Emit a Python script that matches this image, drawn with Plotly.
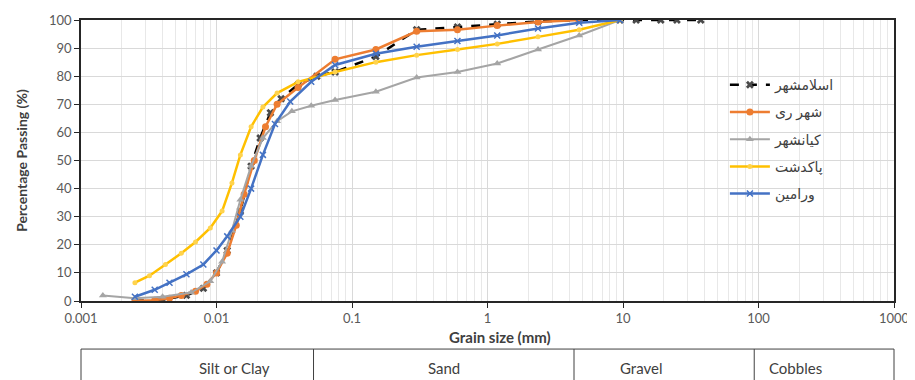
import math
import plotly.graph_objects as go

# ---------------- data ----------------
islamshahr_mm = [0.0025, 0.004, 0.006, 0.008, 0.01, 0.012, 0.015, 0.018, 0.021, 0.025, 0.03, 0.04,
                 0.055, 0.075, 0.15, 0.3, 0.6, 1.18, 2.36, 4.75, 9.5, 12.5, 19, 25, 37.5]
islamshahr_pct = [0, 0.5, 2, 4.5, 10, 18, 32, 48, 58, 67, 72, 77,
                  80, 81.5, 87, 96.5, 97.5, 98.5, 99.5, 100, 100, 100, 100, 100, 100]

shahrrey_mm = [0.0025, 0.0035, 0.0045, 0.0055, 0.007, 0.0085, 0.01, 0.012, 0.014, 0.016, 0.019,
               0.023, 0.028, 0.04, 0.075, 0.15, 0.3, 0.6, 1.18, 2.36, 4.75]
shahrrey_pct = [0, 0.3, 1, 2, 3.5, 6, 10, 17, 27, 38, 50,
                62, 70, 76, 86, 89.5, 96, 96.5, 98, 99.3, 100]

kianshahr_mm = [0.00145, 0.0025, 0.004, 0.0065, 0.009, 0.011, 0.013, 0.015, 0.018, 0.022, 0.028,
                0.036, 0.05, 0.075, 0.15, 0.3, 0.6, 1.18, 2.36, 4.75, 9.5]
kianshahr_pct = [2, 1, 1.5, 3, 7, 14, 25, 36, 48, 58, 64,
                 67.5, 69.5, 71.5, 74.5, 79.5, 81.5, 84.5, 89.5, 94.5, 100]

pakdasht_mm = [0.0025, 0.0032, 0.0042, 0.0055, 0.007, 0.009, 0.011, 0.013, 0.015, 0.018, 0.022,
               0.028, 0.04, 0.075, 0.15, 0.3, 0.6, 1.18, 2.36, 4.75, 9.5]
pakdasht_pct = [6.5, 9, 13, 17, 21, 26, 32, 42, 52, 62, 69,
                74, 78, 81.5, 85, 87.5, 89.5, 91.5, 94, 96.5, 100]

varamin_mm = [0.0025, 0.0035, 0.0045, 0.006, 0.008, 0.01, 0.012, 0.015, 0.018, 0.022, 0.027,
              0.035, 0.05, 0.075, 0.15, 0.3, 0.6, 1.18, 2.36, 4.75, 9.5]
varamin_pct = [1.5, 4, 6.5, 9.5, 13, 18, 23, 30, 40, 52, 63,
               71, 78, 84, 88, 90.5, 92.5, 94.5, 97, 99, 100]

series_names = ["اسلامشهر", "شهر ری", "کیانشهر", "پاکدشت", "ورامین"]

x_tick_vals = [0.001, 0.01, 0.1, 1, 10, 100, 1000]
x_tick_text = ["0.001", "0.01", "0.1", "1", "10", "100", "1000"]
y_tick_vals = [0, 10, 20, 30, 40, 50, 60, 70, 80, 90, 100]

class_names = ["Silt or Clay", "Sand", "Gravel", "Cobbles"]
class_edges_mm = [0.001, 0.052, 4.35, 93, 1000]

# ---------------- figure ----------------
FONT = "Lato, 'DejaVu Sans', sans-serif"
fig = go.Figure()

styles = [
    dict(line=dict(color="#000000", width=2.5, dash="dash"),
         marker=dict(symbol="x", size=7, color="#4a4a4a")),
    dict(line=dict(color="#ED7D31", width=2.5),
         marker=dict(symbol="circle", size=7, color="#ED7D31")),
    dict(line=dict(color="#A5A5A5", width=2),
         marker=dict(symbol="triangle-up", size=7, color="#A5A5A5")),
    dict(line=dict(color="#FFC000", width=2.5),
         marker=dict(symbol="circle", size=5, color="#FFD34D")),
    dict(line=dict(color="#4472C4", width=2.5),
         marker=dict(symbol="x-thin-open", size=6, line=dict(color="#7FA3E0", width=1.5))),
]
xs = [islamshahr_mm, shahrrey_mm, kianshahr_mm, pakdasht_mm, varamin_mm]
ys = [islamshahr_pct, shahrrey_pct, kianshahr_pct, pakdasht_pct, varamin_pct]

for i, (name, x, y, st) in enumerate(zip(series_names, xs, ys, styles)):
    fig.add_trace(go.Scatter(x=x, y=y, name=name, mode="lines+markers",
                             legendgroup=f"g{i}", **st))

fig.update_xaxes(type="log", range=[-3, 3], tickvals=x_tick_vals, ticktext=x_tick_text,
                 showline=True, linecolor="#262626", linewidth=1.5, mirror=True,
                 ticks="outside", ticklen=5, tickcolor="#262626", automargin=False,
                 showgrid=True, gridcolor="#D9D9D9", gridwidth=1,
                 minor=dict(showgrid=True, gridcolor="#E8E8E8", dtick="D1", ticks=""),
                 tickfont=dict(family=FONT, size=13, color="#595959"), zeroline=False)
fig.update_yaxes(range=[0, 100], tickvals=y_tick_vals, automargin=False,
                 showline=True, linecolor="#262626", linewidth=1.5, mirror=True,
                 ticks="outside", ticklen=5, tickcolor="#262626",
                 showgrid=True, gridcolor="#D9D9D9", gridwidth=1,
                 tickfont=dict(family=FONT, size=13, color="#595959"), zeroline=False,
                 title=dict(text="<b>Percentage Passing (%)</b>", standoff=18,
                            font=dict(family=FONT, size=14, color="#404040")))

annotations = [dict(text="<b>Grain size (mm)</b>", xref="paper", yref="paper",
                    x=0.515, y=-0.127, yanchor="middle", showarrow=False,
                    font=dict(family=FONT, size=15, color="#404040"))]

def frac(v):
    return (math.log10(v) + 3) / 6

shapes = []
tbl_top, tbl_bot = -0.171, -0.32
shapes.append(dict(type="line", xref="paper", yref="paper", x0=0, x1=1,
                   y0=tbl_top, y1=tbl_top, line=dict(color="#404040", width=1)))
for e in class_edges_mm:
    shapes.append(dict(type="line", xref="paper", yref="paper", x0=frac(e), x1=frac(e),
                       y0=tbl_top, y1=tbl_bot, line=dict(color="#404040", width=1)))
for i, nm in enumerate(class_names):
    cx = (frac(class_edges_mm[i]) + frac(class_edges_mm[i + 1])) / 2
    annotations.append(dict(text=nm, xref="paper", yref="paper", x=cx, y=-0.237,
                            yanchor="middle", showarrow=False,
                            font=dict(family=FONT, size=15, color="#404040")))

# page body has an 8px margin, so the figure is sized to fit the 915x380 window
fig.update_layout(
    width=907, height=372,
    margin=dict(l=73, r=21, t=12, b=79),
    paper_bgcolor="white", plot_bgcolor="white",
    showlegend=True,
    legend=dict(x=0.792, y=0.825, xanchor="left", yanchor="top", itemwidth=40,
                bgcolor="rgba(255,255,255,0)", tracegroupgap=6,
                font=dict(family=FONT, size=14, color="#404040")),
    annotations=annotations, shapes=shapes,
)

fig.write_html("out.html")
